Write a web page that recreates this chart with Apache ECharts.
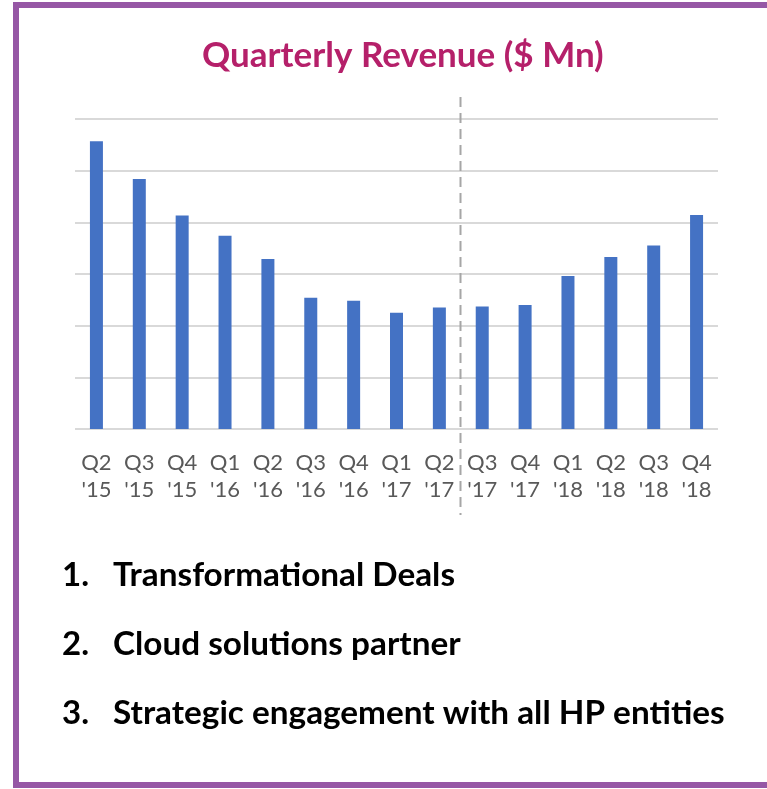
<!DOCTYPE html>
<html>
<head>
<meta charset="utf-8">
<script src="https://cdn.jsdelivr.net/npm/echarts@6/dist/echarts.min.js"></script>
<style>
  html, body { margin: 0; padding: 0; background: #fff; overflow: hidden; }
  #frame {
    position: absolute; left: 13px; top: 2px; width: 800px; height: 774px;
    border: 6px solid #9657A5; box-sizing: content-box;
  }
  #main { position: absolute; left: 0; top: 0; width: 767px; height: 789px; }
</style>
</head>
<body>
<div id="frame"></div>
<div id="main"></div>
<script>
const quarters = ['Q2', 'Q3', 'Q4', 'Q1', 'Q2', 'Q3', 'Q4', 'Q1', 'Q2', 'Q3', 'Q4', 'Q1', 'Q2', 'Q3', 'Q4'];
const years = ["'15", "'15", "'15", "'16", "'16", "'16", "'16", "'17", "'17", "'17", "'17", "'18", "'18", "'18", "'18"];
const revenue = [55.7, 48.4, 41.3, 37.4, 32.9, 25.4, 24.8, 22.5, 23.5, 23.7, 24.0, 29.6, 33.3, 35.5, 41.4];
const highlights = ['Transformational Deals', 'Cloud solutions partner', 'Strategic engagement with all HP entities'];
const splitAfter = 8; // dashed divider between Q2 '17 and Q3 '17

const categories = quarters.map((q, i) => q + '\n' + years[i]);
const font = 'Lato, "Open Sans", sans-serif';

const chart = echarts.init(document.getElementById('main'), null, { renderer: 'canvas' });

const listText = [];
highlights.forEach((t, i) => {
  listText.push({
    type: 'text', x: 62, y: 575 + i * 69,
    style: { text: (i + 1) + '.', font: 'bold 33px ' + font, fill: '#000', verticalAlign: 'middle' }
  });
  listText.push({
    type: 'text', x: 113, y: 575 + i * 69,
    style: { text: t, font: 'bold 33.3px ' + font, fill: '#000', verticalAlign: 'middle' }
  });
});

const option = {
  backgroundColor: 'transparent',
  animation: false,
  title: {
    text: 'Quarterly Revenue ($ Mn)',
    left: 197,
    top: 33,
    textStyle: { color: '#B5206A', fontSize: 35, fontWeight: 'bold', fontFamily: font }
  },
  grid: { left: 75, right: 49, top: 119, bottom: 360 },
  xAxis: {
    type: 'category',
    data: categories,
    axisLine: { show: false },
    axisTick: { show: false },
    axisLabel: { color: '#595959', fontSize: 22, lineHeight: 27, margin: 20, fontFamily: font, interval: 0 }
  },
  yAxis: {
    type: 'value',
    min: 0, max: 60, interval: 10,
    axisLabel: { show: false },
    axisLine: { show: false },
    axisTick: { show: false },
    splitLine: { lineStyle: { color: '#D9D9D9', width: 2 } }
  },
  series: [{
    type: 'bar',
    data: revenue,
    barWidth: 13,
    itemStyle: { color: '#4472C4' }
  }],
  graphic: listText
};

chart.setOption(option);

// divider line placed from the category scale
const xa = chart.convertToPixel({ xAxisIndex: 0 }, splitAfter);
const xb = chart.convertToPixel({ xAxisIndex: 0 }, splitAfter + 1);
const xm = Math.round((xa + xb) / 2) - 0.5;
chart.setOption({
  graphic: listText.concat([{
    type: 'line',
    shape: { x1: xm, y1: 97, x2: xm, y2: 515 },
    style: { stroke: '#A6A6A6', lineWidth: 2, lineDash: [10, 6] },
    z: 10
  }])
});
</script>
</body>
</html>
